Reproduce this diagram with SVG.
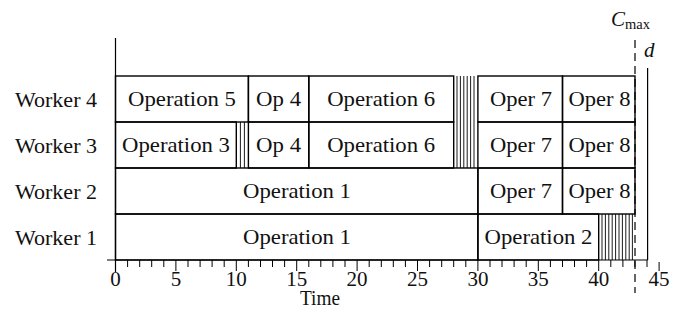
<svg xmlns="http://www.w3.org/2000/svg" width="684" height="331" viewBox="0 0 684 331">
  <style>
    .box { fill: none; stroke: #000; stroke-width: 1.4; }
    .hatch { stroke: #000; stroke-width: 0.9; }
    .axis { stroke: #000; stroke-width: 1.2; fill: none; }
    .tick { stroke: #000; stroke-width: 1; }
    text { font-family: "Liberation Serif", "Times New Roman", serif; fill: #111; }
    .lbl { font-size: 21px; }
    .c { text-anchor: middle; }
    .num { font-size: 21px; text-anchor: middle; }
    .it { font-style: italic; }
  </style>

  <!-- worker row labels -->
  <g id="labels">
    <text class="lbl" x="15" y="107" textLength="82" lengthAdjust="spacingAndGlyphs">Worker 4</text>
    <text class="lbl" x="15" y="153" textLength="82" lengthAdjust="spacingAndGlyphs">Worker 3</text>
    <text class="lbl" x="15" y="199" textLength="82" lengthAdjust="spacingAndGlyphs">Worker 2</text>
    <text class="lbl" x="15" y="245" textLength="82" lengthAdjust="spacingAndGlyphs">Worker 1</text>
  </g>

  <!-- Worker 4 -->
  <g id="w4-op5"><rect class="box" x="115.5" y="76" width="132.9" height="46"/>
    <text class="lbl c" x="182" y="106" textLength="108" lengthAdjust="spacingAndGlyphs">Operation 5</text></g>
  <g id="w4-op4"><rect class="box" x="248.4" y="76" width="60.4" height="46"/>
    <text class="lbl c" x="278.6" y="106" textLength="45" lengthAdjust="spacingAndGlyphs">Op 4</text></g>
  <g id="w4-op6"><rect class="box" x="308.8" y="76" width="144.9" height="46"/>
    <text class="lbl c" x="381.2" y="106" textLength="108" lengthAdjust="spacingAndGlyphs">Operation 6</text></g>
  <g id="w4-op7"><rect class="box" x="477.9" y="76" width="84.6" height="46"/>
    <text class="lbl c" x="521" y="106" textLength="62" lengthAdjust="spacingAndGlyphs">Oper 7</text></g>
  <g id="w4-op8"><rect class="box" x="562.5" y="76" width="72.5" height="46"/>
    <text class="lbl c" x="599.5" y="106" textLength="62" lengthAdjust="spacingAndGlyphs">Oper 8</text></g>

  <!-- Worker 3 -->
  <g id="w3-op3"><rect class="box" x="115.5" y="122" width="120.8" height="46"/>
    <text class="lbl c" x="176" y="152" textLength="108" lengthAdjust="spacingAndGlyphs">Operation 3</text></g>
  <g id="w3-op4"><rect class="box" x="248.4" y="122" width="60.4" height="46"/>
    <text class="lbl c" x="278.6" y="152" textLength="45" lengthAdjust="spacingAndGlyphs">Op 4</text></g>
  <g id="w3-op6"><rect class="box" x="308.8" y="122" width="144.9" height="46"/>
    <text class="lbl c" x="381.2" y="152" textLength="108" lengthAdjust="spacingAndGlyphs">Operation 6</text></g>
  <g id="w3-op7"><rect class="box" x="477.9" y="122" width="84.6" height="46"/>
    <text class="lbl c" x="521" y="152" textLength="62" lengthAdjust="spacingAndGlyphs">Oper 7</text></g>
  <g id="w3-op8"><rect class="box" x="562.5" y="122" width="72.5" height="46"/>
    <text class="lbl c" x="599.5" y="152" textLength="62" lengthAdjust="spacingAndGlyphs">Oper 8</text></g>

  <!-- Worker 2 -->
  <g id="w2-op1"><rect class="box" x="115.5" y="168" width="362.4" height="46"/>
    <text class="lbl c" x="297" y="198" textLength="108" lengthAdjust="spacingAndGlyphs">Operation 1</text></g>
  <g id="w2-op7"><rect class="box" x="477.9" y="168" width="84.6" height="46"/>
    <text class="lbl c" x="521" y="198" textLength="62" lengthAdjust="spacingAndGlyphs">Oper 7</text></g>
  <g id="w2-op8"><rect class="box" x="562.5" y="168" width="72.5" height="46"/>
    <text class="lbl c" x="599.5" y="198" textLength="62" lengthAdjust="spacingAndGlyphs">Oper 8</text></g>

  <!-- Worker 1 -->
  <g id="w1-op1"><rect class="box" x="115.5" y="214" width="362.4" height="46"/>
    <text class="lbl c" x="297" y="244" textLength="108" lengthAdjust="spacingAndGlyphs">Operation 1</text></g>
  <g id="w1-op2"><rect class="box" x="477.9" y="214" width="120.8" height="46"/>
    <text class="lbl c" x="538.5" y="244" textLength="108" lengthAdjust="spacingAndGlyphs">Operation 2</text></g>

  <!-- idle / setup intervals (vertical hatching) -->
  <g id="idle">
    <path class="hatch" d="M457 76V168M460.4 76V168M463.8 76V168M467.2 76V168M470.6 76V168M474 76V168"/>
    <path class="hatch" d="M240.4 122V168M244.4 122V168"/>
    <path class="hatch" d="M602 214V260M605.4 214V260M608.8 214V260M612.2 214V260M615.6 214V260M619 214V260M622.4 214V260M625.8 214V260M629.2 214V260M632.4 214V260"/>
  </g>

  <!-- time axis -->
  <g id="connectors">
    <path class="axis" d="M115.5 38V272M107 260H647.6"/>
    <path class="tick" d="M127.6 260v7M139.7 260v7M151.7 260v7M163.8 260v7M175.9 260v11M188 260v7M200.1 260v7M212.1 260v7M224.2 260v7M236.3 260v11M248.4 260v7M260.5 260v7M272.5 260v7M284.6 260v7M296.7 260v11M308.8 260v7M320.8 260v7M332.9 260v7M345 260v7M357.1 260v11M369.2 260v7M381.3 260v7M393.3 260v7M405.4 260v7M417.5 260v11M429.6 260v7M441.7 260v7M453.7 260v7M465.8 260v7M477.9 260v11M490 260v7M502 260v7M514.1 260v7M526.2 260v7M538.3 260v11M550.4 260v7M562.5 260v7M574.5 260v7M586.6 260v7M598.7 260v11M610.8 260v7M622.9 260v7M634.9 260v7M647 260v7M659.1 262v9"/>
    <!-- deadline d and makespan Cmax -->
    <path class="axis" d="M647.6 68V260"/>
    <path class="axis" d="M635 40V293" stroke-dasharray="8 5"/>
  </g>

  <g id="ticklabels">
    <text class="num" x="115.5" y="286">0</text>
    <text class="num" x="175.9" y="286">5</text>
    <text class="num" x="236.3" y="286">10</text>
    <text class="num" x="296.7" y="286">15</text>
    <text class="num" x="357.1" y="286">20</text>
    <text class="num" x="417.5" y="286">25</text>
    <text class="num" x="477.9" y="286">30</text>
    <text class="num" x="538.3" y="286">35</text>
    <text class="num" x="598.7" y="286">40</text>
    <text class="num" x="659.1" y="286">45</text>
    <text class="lbl c" x="320" y="305" textLength="40" lengthAdjust="spacingAndGlyphs">Time</text>
  </g>

  <g id="markers">
    <text class="it" x="611" y="26" font-size="21">C</text>
    <text x="625" y="29" font-size="14.5">max</text>
    <text class="it" x="644" y="57" font-size="21">d</text>
  </g>
</svg>
